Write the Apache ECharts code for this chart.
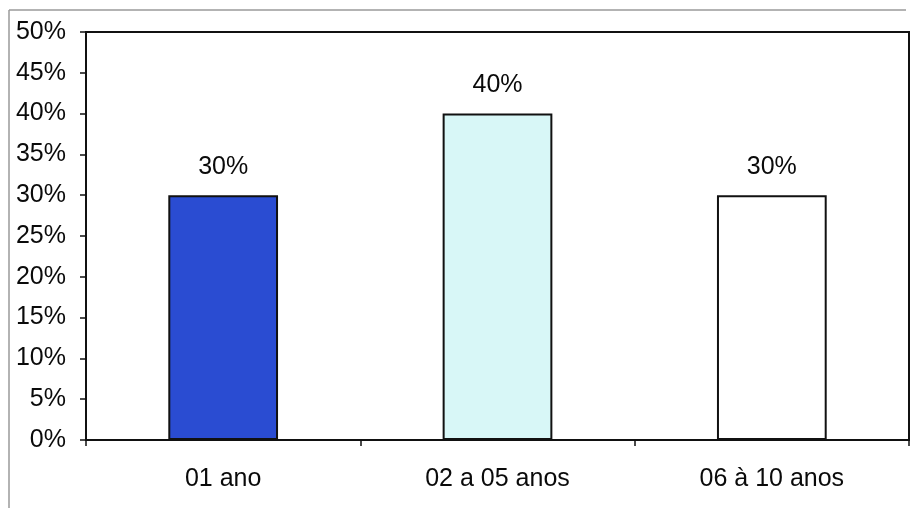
<!DOCTYPE html>
<html>
<head>
<meta charset="utf-8">
<script src="https://cdn.jsdelivr.net/npm/echarts@6/dist/echarts.min.js"></script>
<style>
  html, body { margin: 0; padding: 0; background: #fff; }
  #chart { width: 918px; height: 508px; }
</style>
</head>
<body>
<div id="chart"></div>
<script>
// Tempo de atuação: distribuição percentual por faixa
const categories = ['01 ano', '02 a 05 anos', '06 à 10 anos'];
const values = [30, 40, 30];
const barColors = ['#2a4cd2', '#d8f7f7', '#ffffff'];

const chart = echarts.init(document.getElementById('chart'));
const font = '"Liberation Sans", Arial, sans-serif';

chart.setOption({
  animation: false,
  backgroundColor: '#ffffff',
  grid: {
    left: 86, right: 9, top: 32, bottom: 68,
    show: true, borderColor: '#111', borderWidth: 2, backgroundColor: '#fff'
  },
  xAxis: {
    type: 'category',
    data: categories,
    axisLine: { lineStyle: { color: '#111', width: 2 } },
    axisTick: { show: true, length: 6, lineStyle: { color: '#111', width: 1.5 } },
    axisLabel: { color: '#0a0a0a', fontSize: 25, fontFamily: font, margin: 27 }
  },
  yAxis: {
    type: 'value',
    min: 0, max: 50, interval: 5,
    axisLine: { show: true, lineStyle: { color: '#111', width: 2 } },
    axisTick: { show: true, length: 6, lineStyle: { color: '#111', width: 1.5 } },
    splitLine: { show: false },
    axisLabel: { color: '#0a0a0a', fontSize: 25, fontFamily: font, margin: 20, formatter: '{value}%' }
  },
  series: [{
    type: 'bar',
    barWidth: '40%',
    data: values.map((v, i) => ({
      value: v,
      itemStyle: { color: barColors[i], borderColor: '#111', borderWidth: 2 }
    })),
    label: {
      show: true, position: 'top', distance: 16,
      color: '#0a0a0a', fontSize: 25, fontFamily: font, formatter: '{c}%'
    }
  }],
  graphic: [
    { type: 'line', shape: { x1: 9, y1: 10, x2: 906, y2: 10 }, style: { stroke: '#9a9a9a', lineWidth: 1.5 } },
    { type: 'line', shape: { x1: 9, y1: 10, x2: 9, y2: 508 }, style: { stroke: '#9a9a9a', lineWidth: 1.5 } }
  ]
});
</script>
</body>
</html>
